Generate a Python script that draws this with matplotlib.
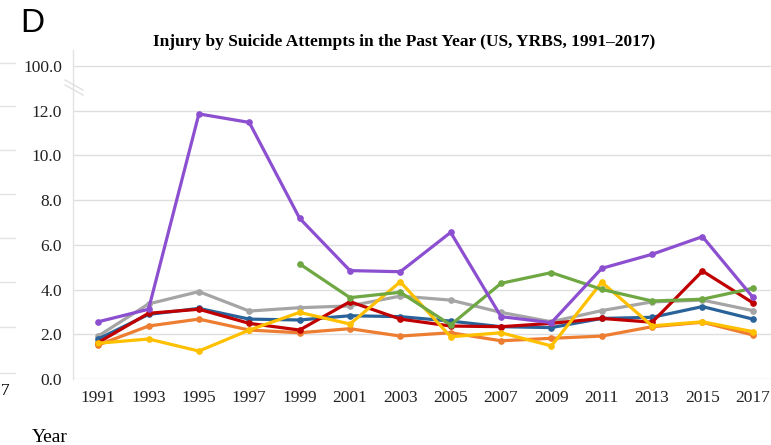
import matplotlib
matplotlib.use("Agg")
import matplotlib.pyplot as plt
from matplotlib.lines import Line2D

# --- Data (percent) ---
years = [1991, 1993, 1995, 1997, 1999, 2001, 2003, 2005, 2007, 2009, 2011, 2013, 2015, 2017]

purple = [2.56, 3.12, 11.86, 11.48, 7.19, 4.85, 4.80, 6.56, 2.79, 2.52, 4.95, 5.58, 6.37, 3.66]
green_years = years[4:]
green = [5.15, 3.64, 3.88, 2.42, 4.28, 4.76, 4.01, 3.49, 3.57, 4.06]
gray = [1.92, 3.36, 3.91, 3.04, 3.19, 3.27, 3.71, 3.53, 2.98, 2.56, 3.06, 3.45, 3.53, 3.06]
red = [1.63, 2.94, 3.12, 2.49, 2.19, 3.46, 2.68, 2.37, 2.34, 2.49, 2.71, 2.54, 4.83, 3.41]
blue = [1.79, 2.89, 3.16, 2.68, 2.64, 2.83, 2.79, 2.59, 2.34, 2.30, 2.71, 2.76, 3.24, 2.68]
orange = [1.52, 2.37, 2.68, 2.19, 2.07, 2.25, 1.92, 2.07, 1.71, 1.82, 1.92, 2.34, 2.54, 1.97]
yellow = [1.60, 1.79, 1.25, 2.19, 2.98, 2.46, 4.35, 1.89, 2.07, 1.48, 4.33, 2.38, 2.56, 2.12]

ytick_vals = [0, 2, 4, 6, 8, 10, 12]
top_label = "100.0"  # broken axis: the 100 tick sits one slot above 12
title = "Injury by Suicide Attempts in the Past Year (US, YRBS, 1991\u20132017)"

W, H = 771, 445
fig = plt.figure(figsize=(W / 100, H / 100), dpi=100)

# axes in pixel terms: left 73, bottom 379, top 50; right runs past the crop
left, right, top, bottom = 73, 778, 50, 379
ax = fig.add_axes([left / W, 1 - bottom / H, (right - left) / W, (bottom - top) / H])

serif = "Liberation Serif"

series = [
    (years, gray, "#a5a5a5"),
    (years, orange, "#ed7d31"),
    (years, blue, "#2a6399"),
    (years, red, "#c00000"),
    (years, yellow, "#ffc000"),
    (green_years, green, "#6fa843"),
    (years, purple, "#8c4fd0"),
]
for xs, ys, c in series:
    ax.plot(xs, ys, color=c, lw=2.3, marker="o", ms=3.8, mec=c, mfc=c, zorder=3)

ax.set_xlim(1990, 2018)
ax.set_ylim(0, 14.72)
ax.set_xticks(years)
ax.set_xticklabels([str(y) for y in years], fontsize=12.5, family=serif)
ax.set_yticks(ytick_vals + [14])
ax.set_yticklabels([f"{v:.1f}" for v in ytick_vals] + [top_label], fontsize=12.5, family=serif)
ax.tick_params(length=0, colors="#222222")
ax.tick_params(axis="y", pad=8)
ax.tick_params(axis="x", pad=8)
ax.grid(axis="y", color="#dedede", lw=1.0, zorder=0)

for s in ["top", "right", "bottom"]:
    ax.spines[s].set_visible(False)
ax.spines["left"].set_color("#e2e2e2")
ax.spines["left"].set_linewidth(1.0)

# axis break mark
for dy in (0, 5):
    fig.add_artist(Line2D([65 / W, 83 / W], [1 - (80 + dy) / H, 1 - (90 + dy) / H],
                          color="#e0e0e0", lw=1.0))

fig.text(404 / W, 1 - 42 / H, title, ha="center", va="center",
         fontsize=12.5, fontweight="bold", family=serif)
fig.text(20 / W, 1 - 24 / H, "D", ha="left", va="center", fontsize=24,
         family="Liberation Sans")
fig.text(32 / W, 1 - 437 / H, "Year", ha="left", va="center", fontsize=14, family=serif)

# remnants of the neighbouring panel on the far left
for yp in [63, 106, 150, 194, 238, 282, 327, 373]:
    fig.add_artist(Line2D([0, 15 / W], [1 - yp / H, 1 - yp / H], color="#e2e2e2", lw=1.0))
fig.text(1 / W, 1 - 391 / H, "7", ha="left", va="center", fontsize=12.5, family=serif)

fig.savefig("out.png", dpi=100)
